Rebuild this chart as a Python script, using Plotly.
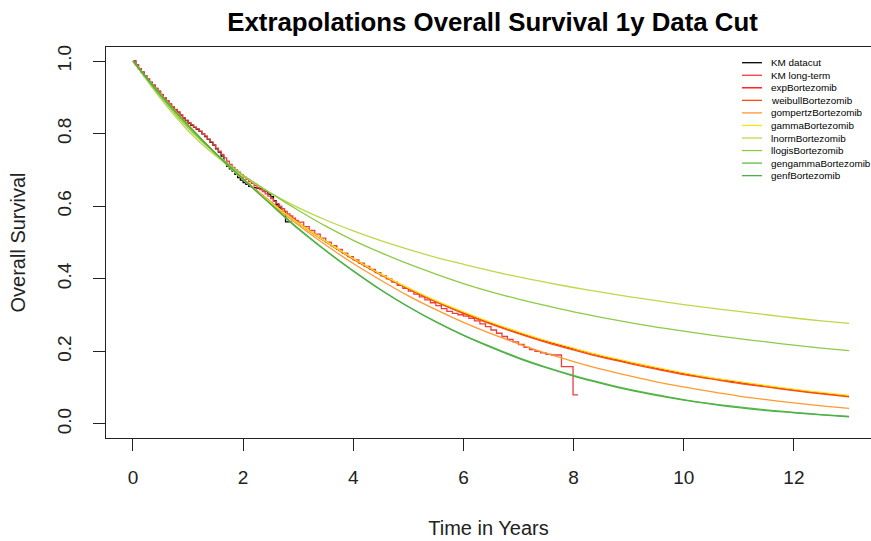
import plotly.graph_objects as go

# ---------------- data ----------------
t_grid = [0, 0.5, 1, 1.5, 2, 2.5, 3, 3.5, 4, 4.5, 5, 5.5, 6, 6.5, 7, 7.5, 8,
          8.5, 9, 9.5, 10, 10.5, 11, 11.5, 12, 12.5, 13]

exp_surv = [1.0, 0.906, 0.821, 0.744, 0.674, 0.611, 0.554, 0.502, 0.455, 0.412, 0.373, 0.338, 0.307, 0.278,
            0.252, 0.228, 0.207, 0.187, 0.170, 0.154, 0.139, 0.126, 0.115, 0.104, 0.094, 0.085, 0.077]
weibull_surv = [1.0, 0.909, 0.824, 0.746, 0.676, 0.612, 0.554, 0.502, 0.454, 0.411, 0.372, 0.336, 0.304, 0.275,
                0.249, 0.225, 0.204, 0.184, 0.167, 0.151, 0.136, 0.124, 0.112, 0.102, 0.092, 0.083, 0.075]
gompertz_surv = [1.0, 0.909, 0.824, 0.746, 0.675, 0.609, 0.548, 0.493, 0.442, 0.396, 0.353, 0.315, 0.280, 0.249,
                 0.221, 0.195, 0.172, 0.151, 0.133, 0.116, 0.102, 0.089, 0.077, 0.067, 0.058, 0.050, 0.043]
gamma_surv = [1.0, 0.905, 0.820, 0.743, 0.673, 0.611, 0.554, 0.503, 0.456, 0.413, 0.375, 0.340, 0.309, 0.280,
              0.254, 0.230, 0.209, 0.189, 0.172, 0.156, 0.141, 0.128, 0.117, 0.106, 0.096, 0.087, 0.079]
lnorm_surv = [1.0, 0.897, 0.808, 0.739, 0.683, 0.636, 0.596, 0.562, 0.532, 0.505, 0.481, 0.459, 0.440, 0.422,
              0.405, 0.390, 0.376, 0.363, 0.351, 0.340, 0.329, 0.319, 0.310, 0.301, 0.292, 0.284, 0.277]
llogis_surv = [1.0, 0.902, 0.815, 0.745, 0.686, 0.636, 0.589, 0.545, 0.506, 0.472, 0.441, 0.413, 0.387, 0.364,
               0.344, 0.326, 0.309, 0.294, 0.280, 0.267, 0.256, 0.245, 0.235, 0.226, 0.217, 0.209, 0.202]
gengamma_surv = [1.0, 0.907, 0.823, 0.746, 0.675, 0.605, 0.537, 0.477, 0.421, 0.369, 0.323, 0.282, 0.245, 0.213,
                 0.183, 0.157, 0.134, 0.114, 0.096, 0.081, 0.067, 0.056, 0.047, 0.039, 0.032, 0.026, 0.021]
genf_surv = [1.0, 0.907, 0.822, 0.745, 0.674, 0.606, 0.539, 0.478, 0.422, 0.370, 0.323, 0.281, 0.244, 0.211,
             0.181, 0.155, 0.132, 0.112, 0.094, 0.079, 0.066, 0.055, 0.045, 0.037, 0.031, 0.025, 0.020]

km_long_t = [0.00, 0.05, 0.10, 0.15, 0.20, 0.25, 0.30, 0.35, 0.40, 0.45, 0.50, 0.55, 0.60, 0.65, 0.70, 0.75,
             0.80, 0.85, 0.90, 0.95, 1.00, 1.05, 1.10, 1.15, 1.20, 1.25, 1.30, 1.35, 1.40, 1.45, 1.50, 1.55,
             1.60, 1.65, 1.70, 1.75, 1.80, 1.85, 1.90, 1.95, 2.00, 2.05, 2.10, 2.15, 2.20, 2.25, 2.30, 2.35,
             2.40, 2.45, 2.50, 2.55, 2.60, 2.65, 2.70, 2.75, 2.80, 2.85, 2.90, 2.95,
             3.0, 3.1, 3.2, 3.3, 3.4, 3.5, 3.6, 3.7, 3.8, 3.9,
             4.0, 4.1, 4.2, 4.3, 4.4, 4.5, 4.6, 4.7, 4.8, 4.9, 5.0, 5.1, 5.2, 5.3, 5.4, 5.5, 5.6, 5.7, 5.8, 5.9,
             6.0, 6.1, 6.2, 6.3, 6.4, 6.5, 6.6, 6.7, 6.8, 6.9, 7.0, 7.1, 7.2, 7.3, 7.4, 7.5, 7.6, 7.7, 7.78,
             7.99, 8.08]
km_long_s = [1.000, 0.990, 0.979, 0.970, 0.960, 0.951, 0.942, 0.934, 0.925, 0.917, 0.908, 0.899, 0.891, 0.882,
             0.874, 0.867, 0.860, 0.852, 0.844, 0.837, 0.830, 0.824, 0.818, 0.813, 0.807, 0.800, 0.793, 0.785,
             0.777, 0.769, 0.760, 0.752, 0.743, 0.733, 0.724, 0.715, 0.707, 0.700, 0.694, 0.687, 0.680, 0.674,
             0.668, 0.663, 0.657, 0.652, 0.646, 0.640, 0.634, 0.628, 0.621, 0.614, 0.607, 0.600, 0.593, 0.586,
             0.579, 0.573, 0.567, 0.561,
             0.556, 0.544, 0.533, 0.523, 0.512, 0.501, 0.491, 0.481, 0.471, 0.461, 0.452, 0.443,
             0.434, 0.426, 0.417, 0.408, 0.400, 0.391, 0.382, 0.374, 0.366, 0.358, 0.350, 0.342, 0.334, 0.326,
             0.318, 0.310, 0.305, 0.301, 0.297, 0.291, 0.284, 0.276, 0.268, 0.259, 0.250, 0.241, 0.233, 0.226,
             0.219, 0.211, 0.205, 0.200, 0.196, 0.192, 0.190, 0.190, 0.158, 0.080, 0.080]

km_cut_t = [0.00, 0.05, 0.10, 0.15, 0.20, 0.25, 0.30, 0.35, 0.40, 0.45, 0.50, 0.55, 0.60, 0.65, 0.70, 0.75,
            0.80, 0.85, 0.90, 0.95, 1.00, 1.05, 1.10, 1.15, 1.20, 1.25, 1.30, 1.35, 1.40, 1.45, 1.50, 1.55,
            1.60, 1.65, 1.70, 1.75, 1.80, 1.85, 1.90, 1.95, 2.00, 2.05, 2.10, 2.15, 2.20, 2.25, 2.30, 2.35,
            2.40, 2.45, 2.50, 2.55, 2.60, 2.65, 2.70, 2.77, 2.88]
km_cut_s = [1.000, 0.989, 0.978, 0.969, 0.959, 0.950, 0.941, 0.933, 0.924, 0.916, 0.907, 0.898, 0.890, 0.881,
            0.873, 0.866, 0.859, 0.851, 0.843, 0.836, 0.829, 0.823, 0.817, 0.812, 0.806, 0.799, 0.792, 0.784,
            0.776, 0.768, 0.758, 0.749, 0.738, 0.722, 0.710, 0.703, 0.697, 0.688, 0.679, 0.672, 0.665, 0.660,
            0.655, 0.652, 0.651, 0.650, 0.649, 0.645, 0.640, 0.633, 0.626, 0.615, 0.604, 0.595, 0.586, 0.557,
            0.557]

series_names = ["KM datacut", "KM long-term", "expBortezomib", "weibullBortezomib", "gompertzBortezomib",
                "gammaBortezomib", "lnormBortezomib", "llogisBortezomib", "gengammaBortezomib", "genfBortezomib"]
series_colors = ["#000000", "#F03C3C", "#FF0000", "#FF4A10", "#FF9A30", "#F2E61A",
                 "#BCD94A", "#8CCB45", "#62BE48", "#4DAF4A"]

x_ticks = [0, 2, 4, 6, 8, 10, 12]
y_ticks = [0.0, 0.2, 0.4, 0.6, 0.8, 1.0]
y_tick_text = ["0.0", "0.2", "0.4", "0.6", "0.8", "1.0"]

FONT = "Liberation Sans, Arial, sans-serif"

# ---------------- figure ----------------
fig = go.Figure()

fig.add_trace(go.Scatter(x=km_cut_t, y=km_cut_s, mode="lines", line=dict(color=series_colors[0], width=1.3, shape="hv"),
                         name=series_names[0], showlegend=False))
fig.add_trace(go.Scatter(x=km_long_t, y=km_long_s, mode="lines", line=dict(color=series_colors[1], width=1.3, shape="hv"),
                         name=series_names[1], showlegend=False))

model_series = [exp_surv, weibull_surv, gompertz_surv, gamma_surv, lnorm_surv, llogis_surv, gengamma_surv, genf_surv]
for i, ys in enumerate(model_series):
    fig.add_trace(go.Scatter(x=t_grid, y=ys, mode="lines",
                             line=dict(color=series_colors[i + 2], width=1.3, shape="spline", smoothing=0.8),
                             name=series_names[i + 2], showlegend=False))

# ---- compact R-style legend drawn in paper coordinates ----
L, R, T, B = 106, 871, 47, 438
def px2paper_x(px):
    return (px - L) / (R - L)
def px2paper_y(py):
    return (B - py) / (B - T)

shapes = []
annotations = []
for i, (nm, col) in enumerate(zip(series_names, series_colors)):
    py = 62.7 + 12.55 * i
    shapes.append(dict(type="line", xref="paper", yref="paper",
                       x0=px2paper_x(742), x1=px2paper_x(762), y0=px2paper_y(py), y1=px2paper_y(py),
                       line=dict(color=col, width=1.3)))
    annotations.append(dict(text=nm, xref="paper", yref="paper", x=px2paper_x(769.5), y=px2paper_y(py),
                            xanchor="left", yanchor="middle", showarrow=False, borderpad=0,
                            font=dict(family=FONT, size=9.9, color="#000000")))

fig.update_layout(
    width=871, height=541,
    margin=dict(l=L, r=871 - R, t=T, b=541 - B, autoexpand=False),
    paper_bgcolor="white", plot_bgcolor="white",
    showlegend=False,
    title=dict(text="<b>Extrapolations Overall Survival 1y Data Cut</b>", xref="container", yref="container",
               x=492.5 / 871, y=1 - 22 / 541, xanchor="center", yanchor="middle",
               font=dict(family=FONT, size=25.8, color="#000000")),
    font=dict(family=FONT, color="#000000"),
    shapes=shapes,
    annotations=annotations,
)

fig.update_xaxes(range=[-0.49, 13.40], tickvals=x_ticks, ticktext=[str(v) for v in x_ticks],
                 showgrid=False, zeroline=False, showline=True, mirror=True, linecolor="#222222", linewidth=1.3,
                 ticks="outside", ticklen=12, tickwidth=1.3, tickcolor="#222222",
                 tickfont=dict(family=FONT, size=19, color="#222222"), ticklabelstandoff=10,
                 title=dict(text="Time in Years", font=dict(family=FONT, size=20, color="#222222"), standoff=34))
fig.update_yaxes(range=[-0.0386, 1.0386], tickvals=y_ticks, ticktext=y_tick_text, tickangle=-90,
                 showgrid=False, zeroline=False, showline=True, mirror=False, linecolor="#222222", linewidth=1.3,
                 ticks="outside", ticklen=12, tickwidth=1.3, tickcolor="#222222",
                 tickfont=dict(family=FONT, size=19, color="#222222"), ticklabelstandoff=14,
                 title=dict(text="Overall Survival", font=dict(family=FONT, size=20, color="#222222"), standoff=23))

fig.write_html("out.html")
